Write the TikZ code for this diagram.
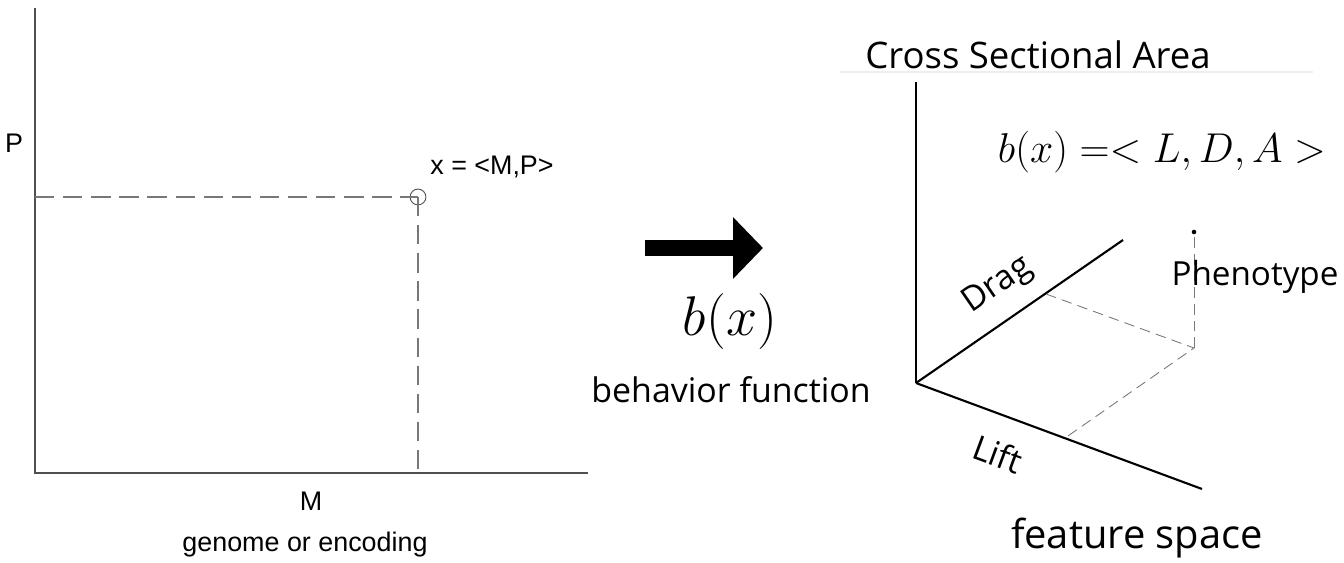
\documentclass[tikz,border=0pt]{standalone}
\usepackage{graphicx}
\usepackage{fontspec}
\setmainfont{Open Sans}
\newfontfamily\arialfont{Liberation Sans}
\usepackage{tikz}
\usetikzlibrary{arrows.meta}
\definecolor{C0}{RGB}{ 80, 80, 80}
\definecolor{C1}{RGB}{120,120,120}
\definecolor{C2}{RGB}{238,238,238}

\begin{document}
\begin{tikzpicture}[x=0.02cm, y=-0.02cm,
    arial/.style={font=\arialfont\fontsize{15.3}{18}\selectfont},
    sans/.style={font=\fontsize{19.3}{23}\selectfont},
    bigmath/.style={font=\fontsize{24.88}{30}\selectfont},
    longdash/.style={C1, line width=0.6pt, dash pattern=on 11pt off 5pt},
    shortdash/.style={C1, line width=0.5pt, dash pattern=on 6pt off 3.5pt}]
    \useasboundingbox (0,0) rectangle (1344,563);

    %% --- Left: genome space, axes M and P ---
    \coordinate (O1) at (35, 473);
    \coordinate (Ptop) at (35, 8);
    \coordinate (Mend) at (588, 473);
    \coordinate (XP) at (35, 197);
    \coordinate (XM) at (418, 473);
    \draw[C0, line width=0.6pt] (Ptop) -- (O1) -- (Mend);

    %% point x with its projections
    \node[draw=C0, circle, line width=0.5pt, minimum size=9pt, inner sep=0pt] (xpt) at (418, 197) {};
    \draw[longdash] (XP) -- (xpt.center);
    \draw[longdash] (xpt.center) -- (XM);

    \node[arial] (Plab) at (14, 143) {P};
    \node[arial] (xlab) at (492, 167) {x = <M,P>};
    \node[arial] (Mlab) at (311, 501) {M};
    \node[arial] (glab) at (305, 545) {genome or encoding};

    %% --- Middle: behavior function arrow ---
    \coordinate (A0) at (645, 248);
    \coordinate (A1) at (763, 248);
    \draw[line width=9.6pt, -{Triangle[length=17pt, width=34pt]}] (A0) -- (A1);
    \node[bigmath] (bx) at (730, 322) {\scalebox{1.28}{$b(x)$}};
    \node[sans] (blab) at (731, 390) {behavior function};

    %% --- Right: feature space, axes L, D, A ---
    \draw[C2, line width=0.6pt] (840, 72) -- (1313, 72);
    \coordinate (O2) at (916, 383);
    \coordinate (Atop) at (916, 82);
    \coordinate (Dend) at (1123, 240);
    \coordinate (Lend) at (1202, 489);
    \draw[line width=1.2pt] (Atop) -- (O2);
    \draw[line width=1.2pt] (O2) -- (Dend);
    \draw[line width=1.2pt] (O2) -- (Lend);

    %% phenotype with its projections
    \coordinate (D1) at (1046, 294);
    \coordinate (L1) at (1065, 438);
    \coordinate (F) at (1194, 348);
    \node[fill, circle, inner sep=0pt, minimum size=2.6pt] (ph) at (1194, 232) {};
    \draw[shortdash] (D1) -- (F) -- (L1);
    \draw[shortdash] (F) -- (ph);

    \node[font=\fontsize{20.8}{25}\selectfont] (clab) at (1038, 55) {Cross Sectional Area};
    \node[bigmath] (bdef) at (1162, 152) {\scalebox{0.953}{$b(x) =< L, D, A >$}};
    \node[sans, rotate=34.6] (dlab) at (998, 286) {Drag};
    \node[font=\fontsize{18.9}{23}\selectfont] (phlab) at (1255, 277) {Phenotype};
    \node[sans, rotate=-20.3] (llab) at (998, 454) {Lift};
    \node[font=\fontsize{22.7}{27}\selectfont] (flab) at (1137, 538) {feature space};

\end{tikzpicture}
\end{document}
